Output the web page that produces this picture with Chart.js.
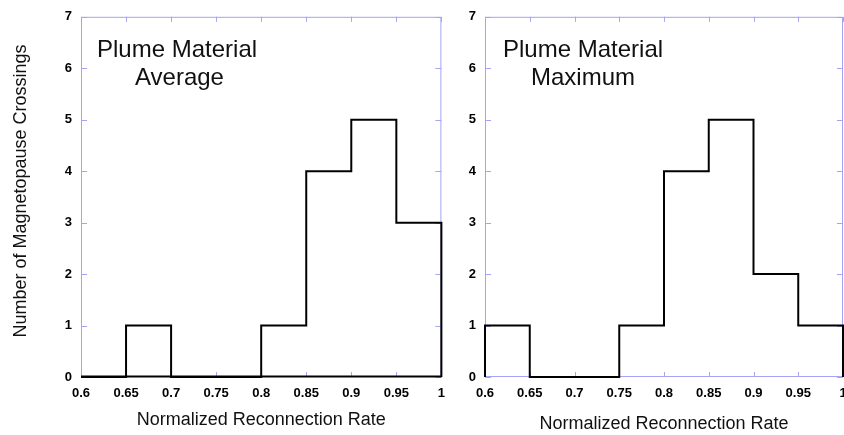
<!DOCTYPE html>
<html>
<head>
<meta charset="utf-8">
<script src="https://cdn.jsdelivr.net/npm/chart.js@4/dist/chart.umd.min.js"></script>
<style>
  html, body { margin: 0; padding: 0; background: #fff; overflow: hidden; }
  body { width: 844px; height: 435px; position: relative; }
  .box { position: absolute; top: 0; height: 435px; }
  #left { left: 0; width: 454px; }
  #right { left: 420px; width: 440px; }
</style>
</head>
<body>
<div class="box" id="left"><canvas id="chart-average"></canvas></div>
<div class="box" id="right"><canvas id="chart-maximum"></canvas></div>
<script>
// bin edges of the histograms (Normalized Reconnection Rate)
const binEdges = [0.6, 0.65, 0.7, 0.75, 0.8, 0.85, 0.9, 0.95, 1.0];
// counts per bin
const averageCounts = [0, 1, 0, 0, 1, 4, 5, 3];
const maximumCounts = [1, 0, 0, 1, 4, 5, 2, 1];
const xTicks = [0.6, 0.65, 0.7, 0.75, 0.8, 0.85, 0.9, 0.95, 1];
const yTicks = [0, 1, 2, 3, 4, 5, 6, 7];

const frameBlue = '#a4a4f4';
const FONT = '"Liberation Sans", Arial, Helvetica, sans-serif';

// outline of a histogram as a stepped line
function stepPoints(counts) {
    const pts = [{ x: binEdges[0], y: 0 }];
    counts.forEach((c, i) => pts.push({ x: binEdges[i], y: c }));
    pts.push({ x: binEdges[binEdges.length - 1], y: 0 });
    return pts;
}

// blue frame with inward ticks, the two-line label and the y title
const framePlugin = {
    id: 'frame',
    beforeDatasetsDraw(chart, args, opts) {
        const { ctx, chartArea: a, scales: { x, y } } = chart;
        ctx.save();
        ctx.strokeStyle = frameBlue;
        ctx.lineWidth = 1;
        ctx.beginPath();
        ctx.rect(a.left + 0.5, a.top + 0.5, a.right - a.left - 1, a.bottom - a.top - 1);
        ctx.stroke();
        ctx.beginPath();
        xTicks.forEach(v => {
            const px = Math.round(x.getPixelForValue(v)) + 0.5;
            ctx.moveTo(px, a.top); ctx.lineTo(px, a.top + 5);
            ctx.moveTo(px, a.bottom); ctx.lineTo(px, a.bottom - 5);
        });
        yTicks.forEach(v => {
            const py = Math.round(y.getPixelForValue(v)) + 0.5;
            ctx.moveTo(a.left, py); ctx.lineTo(a.left + 6, py);
            ctx.moveTo(a.right, py); ctx.lineTo(a.right - 6, py);
        });
        ctx.stroke();
        if (opts.bottomColor) {
            ctx.strokeStyle = opts.bottomColor;
            ctx.lineWidth = 2;
            ctx.beginPath();
            ctx.moveTo(a.left, a.bottom - 0.5);
            ctx.lineTo(a.right, a.bottom - 0.5);
            ctx.stroke();
        }
        ctx.restore();
    },
    afterDraw(chart, args, opts) {
        const ctx = chart.ctx;
        ctx.save();
        ctx.fillStyle = '#111';
        ctx.font = '24px ' + FONT;
        ctx.textBaseline = 'alphabetic';
        ctx.fillText(opts.line1, opts.x1, 57);
        ctx.fillText(opts.line2, opts.x2, 85);
        if (opts.yTitle) {
            ctx.font = '18px ' + FONT;
            ctx.textAlign = 'center';
            ctx.textBaseline = 'middle';
            ctx.translate(21, 191);
            ctx.rotate(-Math.PI / 2);
            ctx.fillText(opts.yTitle, 0, 0);
        }
        ctx.restore();
    }
};

function makeChart(id, counts, cfg) {
    return new Chart(document.getElementById(id), {
        type: 'line',
        data: {
            datasets: [{
                data: stepPoints(counts),
                stepped: 'before',
                borderColor: '#000',
                borderWidth: 2,
                pointRadius: 0,
                fill: false,
                clip: 4
            }]
        },
        options: {
            responsive: true,
            maintainAspectRatio: false,
            animation: false,
            layout: { padding: { left: 0, right: cfg.padRight, top: 16, bottom: 0 } },
            plugins: {
                legend: { display: false },
                tooltip: { enabled: false },
                frame: cfg.frame
            },
            scales: {
                x: {
                    type: 'linear',
                    min: 0.6,
                    max: 1.0,
                    afterBuildTicks: s => { s.ticks = xTicks.map(v => ({ value: v })); },
                    afterFit: s => { s.height = 58; },
                    grid: { display: false, drawTicks: false },
                    border: { display: false },
                    ticks: {
                        color: '#000',
                        padding: 9,
                        maxRotation: 0,
                        autoSkip: false,
                        font: { family: FONT, size: 13, weight: 'bold' },
                        callback: v => String(parseFloat(v.toFixed(2)))
                    },
                    title: {
                        display: true,
                        text: 'Normalized Reconnection Rate',
                        color: '#111',
                        font: { family: FONT, size: 18 },
                        padding: { top: 0, bottom: cfg.xTitlePad }
                    }
                },
                y: {
                    min: 0,
                    max: 7,
                    afterBuildTicks: s => { s.ticks = yTicks.map(v => ({ value: v })); },
                    afterFit: s => { s.width = cfg.yWidth; },
                    grid: { display: false, drawTicks: false },
                    border: { display: false },
                    ticks: {
                        color: '#000',
                        padding: 9,
                        font: { family: FONT, size: 13, weight: 'bold' }
                    }
                }
            }
        },
        plugins: [framePlugin]
    });
}

makeChart('chart-average', averageCounts, {
    padRight: 9,
    yWidth: 81,
    xTitlePad: 4,
    frame: { line1: 'Plume Material', line2: 'Average', x1: 97, x2: 135, bottomColor: '#000',
             yTitle: 'Number of Magnetopause Crossings' }
});

makeChart('chart-maximum', maximumCounts, {
    padRight: 17,
    yWidth: 65,
    xTitlePad: 0,
    frame: { line1: 'Plume Material', line2: 'Maximum', x1: 83, x2: 111 }
});
</script>
</body>
</html>
